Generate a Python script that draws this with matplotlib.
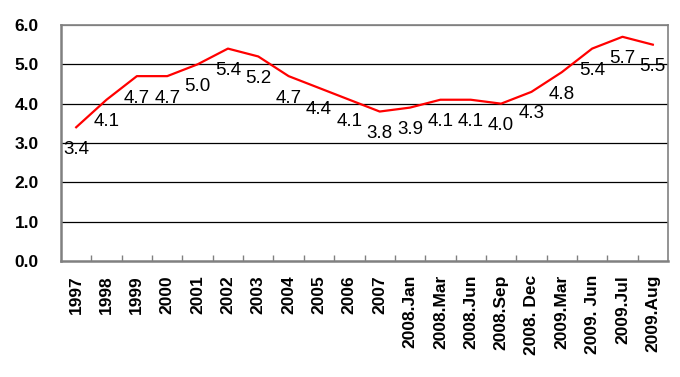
import matplotlib
matplotlib.use("Agg")
import matplotlib.pyplot as plt
import numpy as np

categories = ["1997", "1998", "1999", "2000", "2001", "2002", "2003", "2004", "2005",
              "2006", "2007", "2008.Jan", "2008.Mar", "2008.Jun", "2008.Sep",
              "2008. Dec", "2009.Mar", "2009. Jun", "2009.Jul", "2009.Aug"]
values = [3.4, 4.1, 4.7, 4.7, 5.0, 5.4, 5.2, 4.7, 4.4, 4.1, 3.8, 3.9, 4.1, 4.1, 4.0,
          4.3, 4.8, 5.4, 5.7, 5.5]
yticks = [0.0, 1.0, 2.0, 3.0, 4.0, 5.0, 6.0]

plt.rcParams['font.family'] = ['Liberation Sans', 'DejaVu Sans']

fig = plt.figure(figsize=(6.8, 3.77), dpi=100)
ax = fig.add_axes([61/680, 1 - 261/377, (668-61)/680, (261-25)/377])

x = np.arange(len(categories))
ax.plot(x, values, color='#ff0000', lw=1.6, zorder=3)
for xi, v in zip(x, values):
    ax.annotate(f"{v:.1f}", (xi, v), xytext=(0, -22), textcoords='offset pixels',
                ha='center', va='center', fontsize=13.5, color='black', zorder=4)

ax.set_xlim(-0.5, len(categories) - 0.5)
ax.set_ylim(0, 6)
ax.set_yticks(yticks)
ax.set_yticklabels([f"{t:.1f}" for t in yticks], fontsize=12.5, fontweight='bold')
for t in yticks[1:]:
    ax.axhline(t, color='black' if t < 6 else '#808080', lw=0.9, zorder=1)

ax.set_xticks(x)
ax.set_xticklabels(categories, rotation=90, fontsize=12.5, fontweight='bold',
                   va='top', ha='center')
ax.set_xticks(np.arange(0.5, len(categories) - 0.5, 1), minor=True)
ax.tick_params(axis='x', which='major', length=0, pad=10)
ax.tick_params(axis='x', which='minor', direction='in', length=4, color='#808080', width=1)
ax.tick_params(axis='y', length=0, pad=16)

for s in ['left', 'bottom']:
    ax.spines[s].set_color('#808080')
    ax.spines[s].set_linewidth(1.8)
for s in ['right', 'top']:
    ax.spines[s].set_color('#808080')
    ax.spines[s].set_linewidth(1.2)

fig.savefig("out.png", dpi=100)
